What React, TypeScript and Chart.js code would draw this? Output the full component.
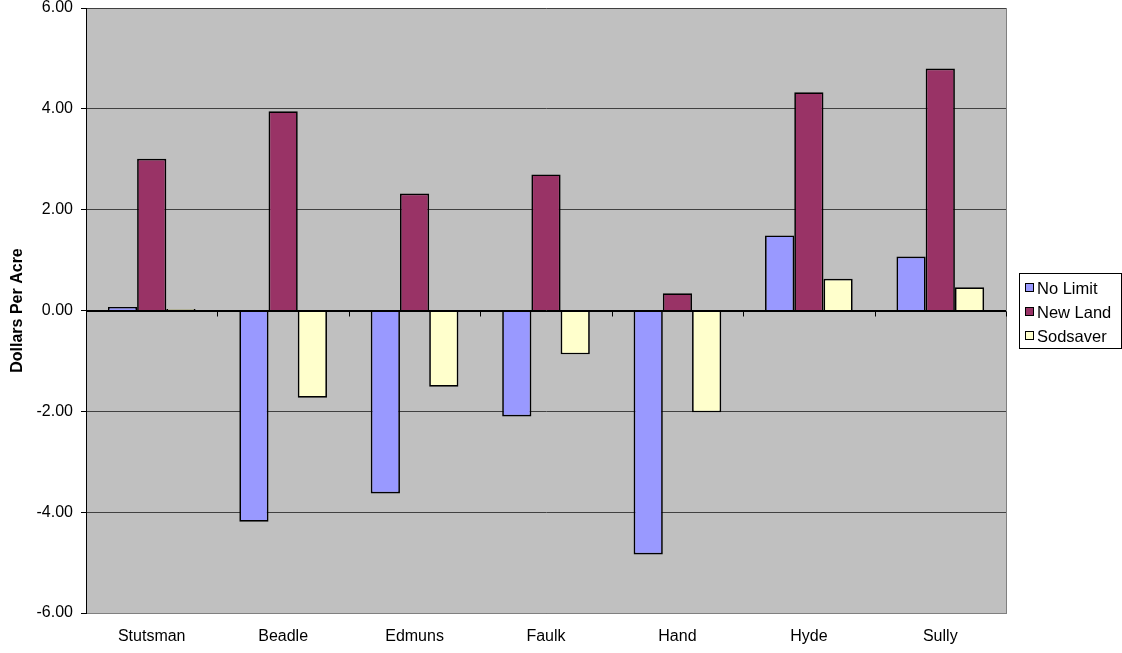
import React, { useEffect, useRef } from "react";
import { Chart, registerables } from "chart.js";

Chart.register(...registerables);

const categories = ["Stutsman", "Beadle", "Edmuns", "Faulk", "Hand", "Hyde", "Sully"];
const noLimit = [0.07, -4.19, -3.63, -2.1, -4.84, 1.49, 1.07];
const newLand = [3.01, 3.95, 2.32, 2.7, 0.34, 4.33, 4.8];
const sodsaver = [0.03, -1.73, -1.51, -0.87, -2.02, 0.63, 0.46];
const seriesNames = ["No Limit", "New Land", "Sodsaver"];
const seriesColors = ["#9999FF", "#993366", "#FFFFCC"];
const yMin = -6;
const yMax = 6;
const yStep = 2;
const FONT = "'Liberation Sans', Arial, sans-serif";

const plotBg = {
  id: "plotBg",
  beforeDraw(chart: any) {
    const { ctx, chartArea } = chart;
    ctx.save();
    ctx.fillStyle = "#C0C0C0";
    ctx.fillRect(chartArea.left, chartArea.top, chartArea.right - chartArea.left, chartArea.bottom - chartArea.top);
    ctx.restore();
  },
  afterDatasetsDraw(chart: any) {
    const { ctx, chartArea, scales } = chart;
    ctx.save();
    ctx.strokeStyle = "#808080";
    ctx.lineWidth = 1;
    ctx.beginPath();
    ctx.moveTo(chartArea.right + 0.5, chartArea.top);
    ctx.lineTo(chartArea.right + 0.5, chartArea.bottom);
    ctx.stroke();
    const y0 = Math.round(scales.y.getPixelForValue(0)) + 0.5;
    ctx.strokeStyle = "#000";
    ctx.beginPath();
    ctx.moveTo(chartArea.left, y0);
    ctx.lineTo(chartArea.right, y0);
    const n = categories.length;
    const w = (chartArea.right - chartArea.left) / n;
    for (let i = 0; i <= n; i++) {
      const x = Math.round(chartArea.left + i * w) + 0.5;
      ctx.moveTo(x, y0);
      ctx.lineTo(x, y0 + 5);
    }
    ctx.stroke();
    ctx.restore();
  },
};

const boxLegend = {
  id: "boxLegend",
  afterDraw(chart: any) {
    const { ctx } = chart;
    const bx = 1019, by = 273, bw = 102, bh = 75;
    ctx.save();
    ctx.fillStyle = "#fff";
    ctx.fillRect(bx, by, bw, bh);
    ctx.strokeStyle = "#000";
    ctx.lineWidth = 1;
    ctx.strokeRect(bx + 0.5, by + 0.5, bw, bh);
    ctx.font = `16.5px ${FONT}`;
    ctx.textBaseline = "middle";
    ctx.textAlign = "left";
    const rows = [288, 312, 336];
    seriesNames.forEach((name, i) => {
      const cy = rows[i];
      ctx.fillStyle = seriesColors[i];
      ctx.fillRect(1025, cy - 4, 8, 8);
      ctx.strokeStyle = "#000";
      ctx.strokeRect(1025.5, cy - 4.5, 8, 8);
      ctx.fillStyle = "#000";
      ctx.fillText(name, 1037, cy + 1);
    });
    ctx.restore();
  },
};

export default function App() {
  const ref = useRef<HTMLCanvasElement>(null);
  useEffect(() => {
    if (!ref.current) return;
    const chart = new Chart(ref.current, {
      type: "bar",
      data: {
        labels: categories,
        datasets: [
          { label: seriesNames[0], data: noLimit, backgroundColor: seriesColors[0], borderColor: "#000", borderWidth: 1.7 },
          { label: seriesNames[1], data: newLand, backgroundColor: seriesColors[1], borderColor: "#000", borderWidth: 1.7 },
          { label: seriesNames[2], data: sodsaver, backgroundColor: seriesColors[2], borderColor: "#000", borderWidth: 1.7 },
        ],
      },
      plugins: [plotBg, boxLegend],
      options: {
        animation: false,
        responsive: false,
        maintainAspectRatio: false,
        layout: { padding: { top: 8, right: 116, bottom: 0, left: 0 } },
        datasets: { bar: { categoryPercentage: 0.667, barPercentage: 1 } },
        plugins: { legend: { display: false }, tooltip: { enabled: false } },
        scales: {
          x: {
            grid: { display: false, drawTicks: false },
            border: { display: true, color: "#808080", width: 1 },
            ticks: { color: "#000", font: { family: FONT, size: 16 }, padding: 14 },
            afterFit: (s: any) => { s.height = 40; s.paddingLeft = 0; s.paddingRight = 0; },
          },
          y: {
            min: yMin,
            max: yMax,
            ticks: {
              stepSize: yStep,
              color: "#000",
              font: { family: FONT, size: 16 },
              padding: 8,
              callback: (v: any) => Number(v).toFixed(2),
            },
            grid: {
              color: (c: any) => (c.tick && c.tick.value === 0 ? "#000" : "#404040"),
              lineWidth: 1,
              drawTicks: true,
              tickLength: 5,
              tickColor: "#000",
            },
            border: { display: true, color: "#000", width: 1 },
            title: {
              display: true,
              text: "Dollars Per Acre",
              color: "#000",
              font: { family: FONT, size: 16, weight: "bold" },
              padding: { top: 8, bottom: 0 },
            },
            afterFit: (s: any) => { s.width = 86; s.paddingTop = 0; s.paddingBottom = 0; },
          },
        },
      },
    });
    return () => chart.destroy();
  }, []);
  return (
    <div style={{ position: "fixed", left: 0, top: 0, width: 1122, height: 653, background: "#fff" }}>
      <canvas ref={ref} width={1122} height={653} style={{ width: 1122, height: 653 }} />
    </div>
  );
}
